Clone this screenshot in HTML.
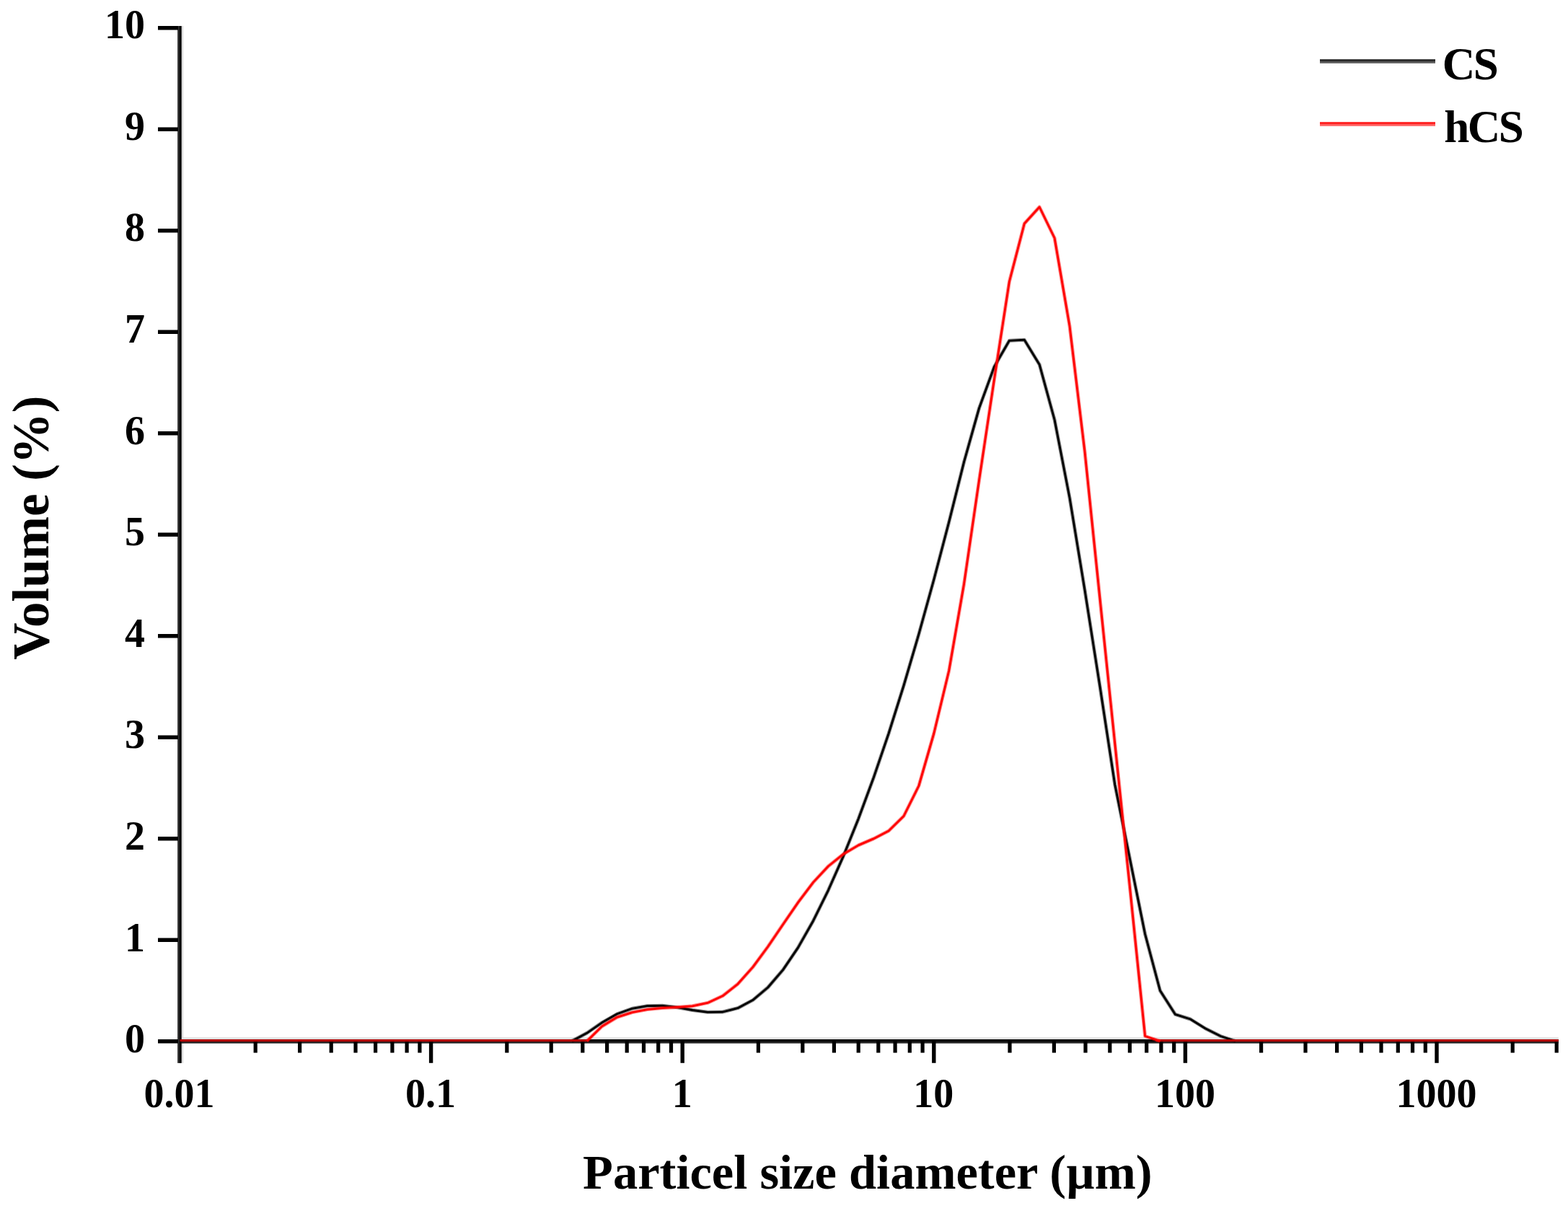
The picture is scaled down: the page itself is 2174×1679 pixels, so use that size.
<!DOCTYPE html>
<html lang="en">
<head>
<meta charset="utf-8">
<title>Particle size distribution</title>
<style>
html,body{margin:0;padding:0;background:#fff;}
body{width:2174px;height:1679px;overflow:hidden;}
svg{display:block;}
text{font-family:"Liberation Serif","DejaVu Serif",serif;font-weight:bold;fill:#000;}
.tick{font-size:56px;}
.title{font-size:68.5px;}
.ytitle{font-size:71px;}
.leg{font-size:63px;letter-spacing:-2.5px;}
</style>
</head>
<body>
<svg width="2174" height="1679" viewBox="0 0 2174 1679">
<rect x="0" y="0" width="2174" height="1679" fill="#ffffff"/>
<g>
<rect x="246.1" y="1438.2" width="1914.7" height="2.9" fill="#e2e2e2"/>
<rect x="251.5" y="36.0" width="2.7" height="1437.9" fill="#dedede"/>
<rect x="246.1" y="1441.1" width="1914.7" height="5.5" fill="#222222"/>
<rect x="246.1" y="1441.1" width="1914.7" height="3.0" fill="#000000"/>
<rect x="246.1" y="36.0" width="5.4" height="1437.9" fill="#303030"/>
<rect x="248.7" y="36.0" width="2.8" height="1437.9" fill="#000000"/>
</g>
<g fill="#000">
<rect x="219" y="1441.0" width="28" height="5.5"/>
<rect x="219" y="1300.5" width="28" height="5.5"/>
<rect x="219" y="1160.0" width="28" height="5.5"/>
<rect x="219" y="1019.5" width="28" height="5.5"/>
<rect x="219" y="879.0" width="28" height="5.5"/>
<rect x="219" y="738.5" width="28" height="5.5"/>
<rect x="219" y="598.0" width="28" height="5.5"/>
<rect x="219" y="457.5" width="28" height="5.5"/>
<rect x="219" y="317.0" width="28" height="5.5"/>
<rect x="219" y="176.5" width="28" height="5.5"/>
<rect x="219" y="36.0" width="28" height="5.5"/>
<rect x="351.6" y="1443" width="5.2" height="16.6"/>
<rect x="413.0" y="1443" width="5.2" height="16.6"/>
<rect x="456.6" y="1443" width="5.2" height="16.6"/>
<rect x="490.4" y="1443" width="5.2" height="16.6"/>
<rect x="518.0" y="1443" width="5.2" height="16.6"/>
<rect x="541.3" y="1443" width="5.2" height="16.6"/>
<rect x="561.5" y="1443" width="5.2" height="16.6"/>
<rect x="579.3" y="1443" width="5.2" height="16.6"/>
<rect x="594.9" y="1443" width="5.4" height="30.8"/>
<rect x="700.2" y="1443" width="5.2" height="16.6"/>
<rect x="761.6" y="1443" width="5.2" height="16.6"/>
<rect x="805.2" y="1443" width="5.2" height="16.6"/>
<rect x="839.0" y="1443" width="5.2" height="16.6"/>
<rect x="866.6" y="1443" width="5.2" height="16.6"/>
<rect x="889.9" y="1443" width="5.2" height="16.6"/>
<rect x="910.1" y="1443" width="5.2" height="16.6"/>
<rect x="927.9" y="1443" width="5.2" height="16.6"/>
<rect x="943.5" y="1443" width="5.4" height="30.8"/>
<rect x="1048.8" y="1443" width="5.2" height="16.6"/>
<rect x="1110.2" y="1443" width="5.2" height="16.6"/>
<rect x="1153.8" y="1443" width="5.2" height="16.6"/>
<rect x="1187.6" y="1443" width="5.2" height="16.6"/>
<rect x="1215.2" y="1443" width="5.2" height="16.6"/>
<rect x="1238.5" y="1443" width="5.2" height="16.6"/>
<rect x="1258.7" y="1443" width="5.2" height="16.6"/>
<rect x="1276.5" y="1443" width="5.2" height="16.6"/>
<rect x="1292.1" y="1443" width="5.4" height="30.8"/>
<rect x="1397.4" y="1443" width="5.2" height="16.6"/>
<rect x="1458.8" y="1443" width="5.2" height="16.6"/>
<rect x="1502.4" y="1443" width="5.2" height="16.6"/>
<rect x="1536.2" y="1443" width="5.2" height="16.6"/>
<rect x="1563.8" y="1443" width="5.2" height="16.6"/>
<rect x="1587.1" y="1443" width="5.2" height="16.6"/>
<rect x="1607.3" y="1443" width="5.2" height="16.6"/>
<rect x="1625.1" y="1443" width="5.2" height="16.6"/>
<rect x="1640.7" y="1443" width="5.4" height="30.8"/>
<rect x="1746.0" y="1443" width="5.2" height="16.6"/>
<rect x="1807.4" y="1443" width="5.2" height="16.6"/>
<rect x="1851.0" y="1443" width="5.2" height="16.6"/>
<rect x="1884.8" y="1443" width="5.2" height="16.6"/>
<rect x="1912.4" y="1443" width="5.2" height="16.6"/>
<rect x="1935.7" y="1443" width="5.2" height="16.6"/>
<rect x="1955.9" y="1443" width="5.2" height="16.6"/>
<rect x="1973.7" y="1443" width="5.2" height="16.6"/>
<rect x="1989.3" y="1443" width="5.4" height="30.8"/>
<rect x="2094.6" y="1443" width="5.2" height="16.6"/>
<rect x="2155.6" y="1443" width="5.2" height="16.6"/>
</g>
<g class="tick" text-anchor="end">
<text x="201" y="1459.2">0</text>
<text x="201" y="1318.6">1</text>
<text x="201" y="1178.0">2</text>
<text x="201" y="1037.4">3</text>
<text x="201" y="896.8">4</text>
<text x="201" y="756.2">5</text>
<text x="201" y="615.6">6</text>
<text x="201" y="475.0">7</text>
<text x="201" y="334.4">8</text>
<text x="201" y="193.8">9</text>
<text x="201" y="53.2">10</text>
</g>
<g class="tick" text-anchor="middle">
<text x="248.5" y="1535.3">0.01</text>
<text x="597.1" y="1535.3">0.1</text>
<text x="945.7" y="1535.3">1</text>
<text x="1294.3" y="1535.3">10</text>
<text x="1642.9" y="1535.3">100</text>
<text x="1991.5" y="1535.3">1000</text>
</g>
<text class="title" text-anchor="middle" x="1202.8" y="1647.8">Particel size diameter (µm)</text>
<text class="ytitle" text-anchor="middle" transform="translate(66.7,731.6) rotate(-90)">Volume (%)</text>
<g fill="none" stroke="#000000" stroke-linejoin="round" stroke-linecap="butt">
<polyline stroke-width="5.0" stroke-opacity="0.45" points="792.8,1443.5 813.7,1432.3 834.6,1417.8 855.6,1405.8 876.5,1398.3 897.4,1394.7 918.3,1394.3 939.2,1396.7 960.1,1400.5 981.1,1403.3 1002.0,1403.0 1022.9,1397.7 1043.8,1386.6 1064.7,1369.0 1085.6,1344.6 1106.6,1313.6 1127.5,1276.7 1148.4,1234.3 1169.3,1187.1 1190.2,1135.2 1211.1,1078.6 1232.1,1017.0 1253.0,950.5 1273.9,879.2 1294.8,803.6 1315.7,723.9 1336.6,640.4 1357.5,566.0 1378.5,508.5 1399.4,472.3 1420.3,471.2 1441.2,505.5 1462.1,582.0 1483.0,690.0 1504.0,818.0 1524.9,951.0 1545.8,1088.0 1566.7,1191.6 1587.6,1295.0 1608.5,1373.6 1629.5,1406.4 1650.4,1413.0 1671.3,1426.0 1692.2,1436.5 1713.1,1443.5"/>
<polyline stroke-width="2.8" points="792.8,1443.5 813.7,1432.3 834.6,1417.8 855.6,1405.8 876.5,1398.3 897.4,1394.7 918.3,1394.3 939.2,1396.7 960.1,1400.5 981.1,1403.3 1002.0,1403.0 1022.9,1397.7 1043.8,1386.6 1064.7,1369.0 1085.6,1344.6 1106.6,1313.6 1127.5,1276.7 1148.4,1234.3 1169.3,1187.1 1190.2,1135.2 1211.1,1078.6 1232.1,1017.0 1253.0,950.5 1273.9,879.2 1294.8,803.6 1315.7,723.9 1336.6,640.4 1357.5,566.0 1378.5,508.5 1399.4,472.3 1420.3,471.2 1441.2,505.5 1462.1,582.0 1483.0,690.0 1504.0,818.0 1524.9,951.0 1545.8,1088.0 1566.7,1191.6 1587.6,1295.0 1608.5,1373.6 1629.5,1406.4 1650.4,1413.0 1671.3,1426.0 1692.2,1436.5 1713.1,1443.5"/>
</g>
<rect x="249.5" y="1441.0" width="564.2" height="3.2" fill="#b40000"/>
<rect x="1602.5" y="1441.0" width="558.3" height="3.2" fill="#b40000"/>
<g fill="none" stroke="#ff0000" stroke-linejoin="round" stroke-linecap="butt">
<polyline stroke-width="5.0" stroke-opacity="0.45" points="813.7,1443.5 834.6,1423.0 855.6,1410.3 876.5,1403.6 897.4,1399.6 918.3,1397.6 939.2,1396.4 960.1,1394.8 981.1,1390.4 1002.0,1380.8 1022.9,1364.3 1043.8,1340.9 1064.7,1312.5 1085.6,1281.7 1106.6,1251.1 1127.5,1223.4 1148.4,1201.0 1169.3,1184.2 1190.2,1171.9 1211.1,1162.9 1232.1,1152.0 1253.0,1131.5 1273.9,1089.5 1294.8,1017.0 1315.7,930.0 1336.6,809.5 1357.5,666.0 1378.5,526.0 1399.4,390.5 1420.3,310.0 1441.2,287.0 1462.1,330.0 1483.0,452.0 1504.0,626.0 1524.9,829.0 1545.8,1031.0 1566.7,1232.0 1587.6,1436.5 1608.5,1443.5"/>
<polyline stroke-width="2.8" points="813.7,1443.5 834.6,1423.0 855.6,1410.3 876.5,1403.6 897.4,1399.6 918.3,1397.6 939.2,1396.4 960.1,1394.8 981.1,1390.4 1002.0,1380.8 1022.9,1364.3 1043.8,1340.9 1064.7,1312.5 1085.6,1281.7 1106.6,1251.1 1127.5,1223.4 1148.4,1201.0 1169.3,1184.2 1190.2,1171.9 1211.1,1162.9 1232.1,1152.0 1253.0,1131.5 1273.9,1089.5 1294.8,1017.0 1315.7,930.0 1336.6,809.5 1357.5,666.0 1378.5,526.0 1399.4,390.5 1420.3,310.0 1441.2,287.0 1462.1,330.0 1483.0,452.0 1504.0,626.0 1524.9,829.0 1545.8,1031.0 1566.7,1232.0 1587.6,1436.5 1608.5,1443.5"/>
</g>
<rect x="1830" y="82.3" width="160" height="5.5" fill="#5c5c5c"/>
<rect x="1830" y="82.3" width="160" height="2.8" fill="#2b2b2b"/>
<rect x="1830" y="169.3" width="160" height="5.6" fill="#ff6a6a"/>
<rect x="1830" y="169.3" width="160" height="2.9" fill="#ff2020"/>
<text class="leg" x="1999.8" y="109.6">CS</text>
<text class="leg" x="2002.3" y="196.5">hCS</text>
</svg>
</body>
</html>
